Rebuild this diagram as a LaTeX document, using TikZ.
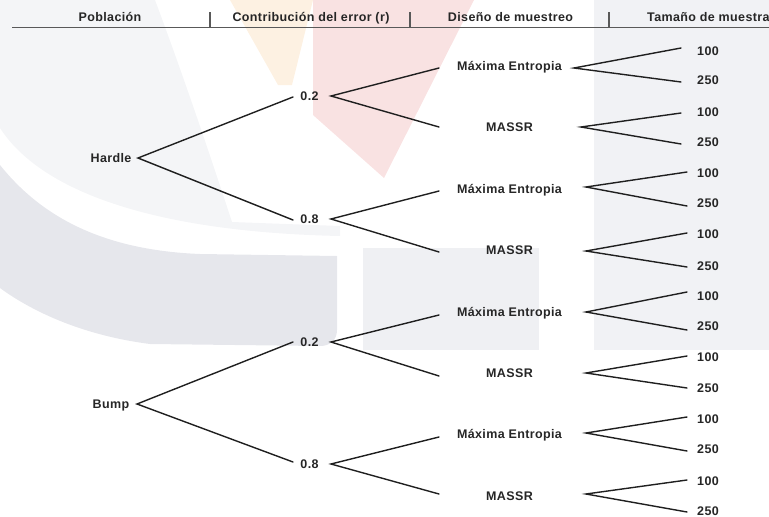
\documentclass[tikz,border=0pt]{standalone}
\usepackage{fontspec}
\setmainfont{Liberation Sans}[LetterSpace=3]
\definecolor{wmA}{HTML}{F4F5F7}
\definecolor{wmB}{HTML}{E6E7EC}
\definecolor{wmC}{HTML}{EFF0F3}
\definecolor{wmD}{HTML}{F1F2F5}
\definecolor{wmE}{HTML}{FDF1E2}
\definecolor{wmF}{HTML}{F9E2E2}
\tikzset{
  lbl/.style={font=\bfseries\fontsize{12.5}{14}\selectfont, text=black!85, inner sep=0pt, anchor=base, yshift=-4.4pt},
  conn/.style={line width=1.4pt, draw=black!88, line cap=round},
  hdr/.style={line width=1.1pt, draw=black!65},
}
\begin{document}
\begin{tikzpicture}[x=1pt,y=-1pt]
\useasboundingbox (0,0) rectangle (769,517);
\clip (0,0) rectangle (769,517);
% faint watermark
\fill[wmA] (0,0) -- (155,0) .. controls (185,80) and (215,170) .. (232,222) -- (340,226) -- (340,236) .. controls (150,232) and (40,190) .. (0,128) -- cycle;
\fill[wmB] (0,165) .. controls (40,215) and (100,250) .. (200,254) -- (337,256) -- (337,330) .. controls (337,340) and (330,346) .. (320,346) -- (150,344) .. controls (80,335) and (30,310) .. (0,288) -- cycle;
\fill[wmC] (363,248) rectangle (539,350);
\fill[wmD] (594,0) rectangle (769,350);
\fill[wmE] (230,0) -- (313,0) -- (292,85) -- (278,85) -- cycle;
\fill[wmF] (313,0) -- (474,0) -- (384,178) -- (313,115) -- cycle;
% header
\node[lbl] (hPob) at (110,17) {Población};
\node[lbl] (hCon) at (311,17) {Contribución del error (r)};
\node[lbl] (hDis) at (510.5,17) {Diseño de muestreo};
\node[lbl, anchor=base west] (hTam) at (647,17) {Tamaño de muestra};
\coordinate (hl0) at (12,27.5);
\coordinate (hl1) at (769,27.5);
\draw[hdr] (hl0) -- (hl1);
\foreach \s/\x in {s1/210, s2/410, s3/609}{
  \coordinate (\s-a) at (\x,12);
  \coordinate (\s-b) at (\x,27.5);
  \draw[hdr] (\s-a) -- (\s-b);
}
% level 1
\node[lbl] (hardle) at (111,158) {Hardle};
\coordinate (hardle-out) at (138,158);
\node[lbl] (bump) at (111,404) {Bump};
\coordinate (bump-out) at (137,404);
% level 2
\foreach \n/\lab/\y/\iy in {r1/0.2/96/97, r2/0.8/219/220, r3/0.2/342/342, r4/0.8/464/462}{
  \node[lbl] (\n) at (309.5,\y) {\lab};
  \coordinate (\n-in) at (293,\iy);
  \coordinate (\n-out) at (331,\y);
}
% level 3 and 4
\foreach \n/\lab/\ty/\iy/\ox/\oy/\ex/\ea/\eb/\ta/\tb in {
 d1/Máxima Entropia/66/68/574/68/681/48/82/51/80,
 d2/MASSR/127/127/581/127/681/113/144/112/142,
 d3/Máxima Entropia/189/191/586/187/687/172/206/173/203,
 d4/MASSR/250/252/586/251/687/233/267/234/266,
 d5/Máxima Entropia/312/315/586/312/687/292/330/296/326,
 d6/MASSR/373/376/586/373/687/356/388/357/388,
 d7/Máxima Entropia/434/437/586/433/687/417/451/419/449,
 d8/MASSR/496/494/586/494/687/480/512/481/511}{
  \node[lbl] (\n) at (509.5,\ty) {\lab};
  \coordinate (\n-in) at (439,\iy);
  \coordinate (\n-out) at (\ox,\oy);
  \coordinate (\n-a) at (\ex,\ea);
  \coordinate (\n-b) at (\ex,\eb);
  \node[lbl, anchor=base west] (\n-ta) at (697,\ta) {100};
  \node[lbl, anchor=base west] (\n-tb) at (697,\tb) {250};
  \draw[conn] (\n-a) -- (\n-out) -- (\n-b);
}
% connectors
\draw[conn] (r1-in) -- (hardle-out) -- (r2-in);
\draw[conn] (r3-in) -- (bump-out) -- (r4-in);
\draw[conn] (d1-in) -- (r1-out) -- (d2-in);
\draw[conn] (d3-in) -- (r2-out) -- (d4-in);
\draw[conn] (d5-in) -- (r3-out) -- (d6-in);
\draw[conn] (d7-in) -- (r4-out) -- (d8-in);
\end{tikzpicture}
\end{document}
